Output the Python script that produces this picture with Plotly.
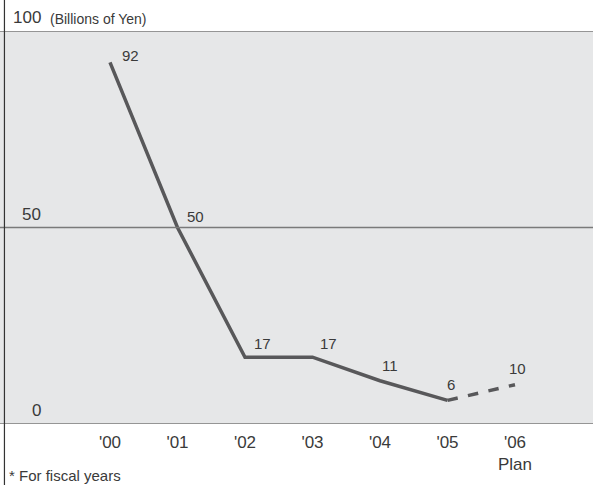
import plotly.graph_objects as go

years = ["'00", "'01", "'02", "'03", "'04", "'05", "'06<br>Plan"]
values = [92, 50, 17, 17, 11, 6, 10]
y_ticks = [0, 50, 100]
x_idx = list(range(len(years)))

FONT = "Liberation Sans, Arial"
TXT = "#3a3a3a"
LINE = "#58585a"
fig = go.Figure()
# actual (solid)
fig.add_trace(go.Scatter(x=x_idx[:6], y=values[:6], mode="lines",
                         line=dict(color=LINE, width=3.5), hoverinfo="skip"))
# plan (dashed)
fig.add_trace(go.Scatter(x=x_idx[5:], y=values[5:], mode="lines",
                         line=dict(color=LINE, width=3.5, dash="dash"), hoverinfo="skip"))

# data labels
offsets = [(20, 7), (18, 11), (17, 14), (16, 14), (10, 15), (3, 16), (2, 16)]
for i, (v, (dx, dy)) in enumerate(zip(values, offsets)):
    fig.add_annotation(x=i, y=v, text=str(v), showarrow=False, xshift=dx, yshift=dy,
                       font=dict(family=FONT, size=15, color=TXT))

# y tick labels placed above gridlines
for t in y_ticks:
    fig.add_annotation(x=43/593, xref="paper", y=t, text=str(t), showarrow=False,
                       xanchor="right", yanchor="bottom", yshift=2,
                       font=dict(family=FONT, size=17, color=TXT))
fig.add_annotation(x=48/593, xref="paper", y=100, text="(Billions of Yen)", showarrow=False,
                   xanchor="left", yanchor="bottom", yshift=2,
                   font=dict(family=FONT, size=14, color=TXT))

# gridlines
for t in y_ticks:
    fig.add_shape(type="line", xref="paper", x0=0, x1=1, y0=t, y1=t,
                  line=dict(color="#7a7a7a", width=1.5))
# left vertical line
fig.add_shape(type="line", xref="paper", yref="paper", x0=0.0075, x1=0.0075, y0=-0.2, y1=1.1,
              line=dict(color="#333", width=1.2))

fig.add_annotation(x=7/593, xref="paper", y=-0.13, yref="paper", text="* For fiscal years",
                   showarrow=False, xanchor="left", yanchor="middle",
                   font=dict(family=FONT, size=15, color=TXT))

fig.update_layout(
    width=593, height=485,
    margin=dict(l=0, r=0, t=31, b=61),
    paper_bgcolor="white", plot_bgcolor="#e6e7e8",
    showlegend=False,
    xaxis=dict(range=[-110/67.5, 483/67.5], tickvals=x_idx, ticktext=years,
               showgrid=False, zeroline=False, showline=False, ticks="",
               ticklabelstandoff=6,
               tickfont=dict(family=FONT, size=17, color=TXT)),
    yaxis=dict(range=[0, 100], showgrid=False, zeroline=False, showticklabels=False,
               showline=False),
)
fig.write_html("out.html")
